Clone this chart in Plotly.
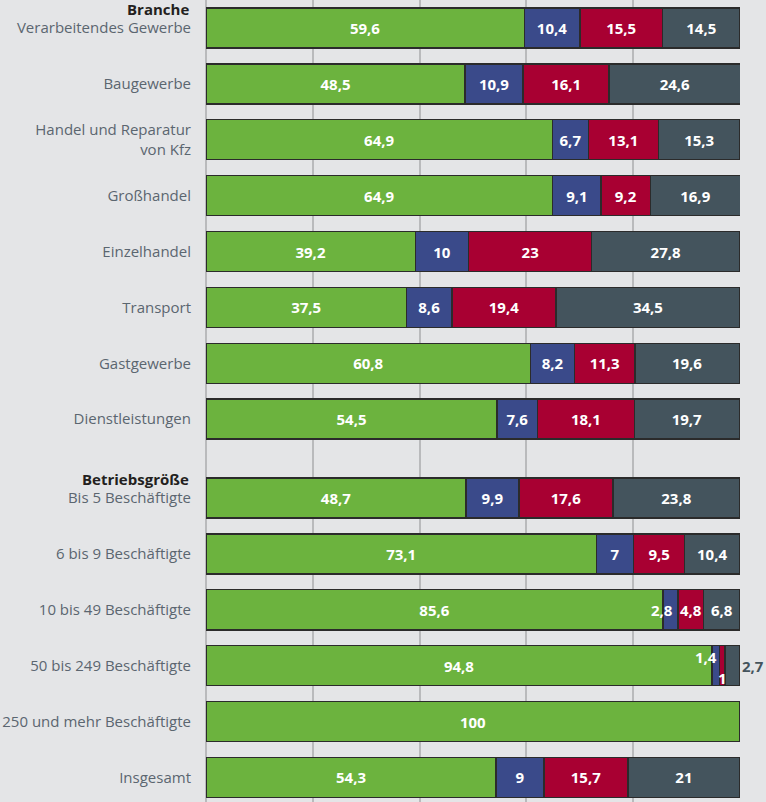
import plotly.graph_objects as go

categories = [
    "Verarbeitendes Gewerbe", "Baugewerbe", "Handel und Reparatur<br>von Kfz",
    "Großhandel", "Einzelhandel", "Transport", "Gastgewerbe", "Dienstleistungen",
    "Bis 5 Beschäftigte", "6 bis 9 Beschäftigte", "10 bis 49 Beschäftigte",
    "50 bis 249 Beschäftigte", "250 und mehr Beschäftigte", "Insgesamt",
]
group_headers = {0: "Branche", 8: "Betriebsgröße"}

s1 = [59.6, 48.5, 64.9, 64.9, 39.2, 37.5, 60.8, 54.5, 48.7, 73.1, 85.6, 94.8, 100, 54.3]
s2 = [10.4, 10.9, 6.7, 9.1, 10, 8.6, 8.2, 7.6, 9.9, 7, 2.8, 1.4, 0, 9]
s3 = [15.5, 16.1, 13.1, 9.2, 23, 19.4, 11.3, 18.1, 17.6, 9.5, 4.8, 1, 0, 15.7]
s4 = [14.5, 24.6, 15.3, 16.9, 27.8, 34.5, 19.6, 19.7, 23.8, 10.4, 6.8, 2.7, 0, 21]

series = [s1, s2, s3, s4]
colors = ["#6cb33e", "#3a4a8a", "#a80032", "#44545d"]

GAP = 0.41  # extra space before the second group
ypos = [i + (GAP if i >= 8 else 0) for i in range(len(categories))]

FONT = "Open Sans"

def fmt(v):
    return f"{v:g}".replace(".", ",")

fig = go.Figure()
small = []  # (series idx, row idx) handled via annotations
for k, (vals, col) in enumerate(zip(series, colors)):
    texts = []
    for i, v in enumerate(vals):
        if v < 3:
            texts.append("")
            if v > 0:
                small.append((k, i))
        else:
            texts.append(fmt(v))
    fig.add_trace(go.Bar(
        x=vals, y=ypos, orientation="h", width=0.716,
        marker=dict(color=col,
                    line=dict(color="#2b2b2b",
                              width=[0 if v == 0 else 1.5 for v in vals])),
        text=texts, textposition="inside", insidetextanchor="middle", textangle=0,
        textfont=dict(color="white", size=15, family=FONT, weight="bold"),
        hoverinfo="skip", showlegend=False,
    ))

annotations = []
lab_font = dict(color="white", size=15, family=FONT, weight="bold")
for k, i in small:
    start = sum(series[j][i] for j in range(k))
    end = start + series[k][i]
    v = series[k][i]
    if k == 3:
        annotations.append(dict(x=end, y=ypos[i], text=fmt(v),
                                xanchor="left", xshift=1, showarrow=False,
                                font=dict(lab_font, color=colors[3])))
    elif i == 11 and k == 1:
        annotations.append(dict(x=end, y=ypos[i], text=fmt(v),
                                xanchor="right", xshift=-1, yshift=9, showarrow=False,
                                font=lab_font))
    elif i == 11 and k == 2:
        annotations.append(dict(x=(start + end) / 2, y=ypos[i], text=fmt(v),
                                xanchor="center", yshift=-12, showarrow=False,
                                font=lab_font))
    else:
        annotations.append(dict(x=end, y=ypos[i], text=fmt(v),
                                xanchor="right", xshift=-3, showarrow=False,
                                font=lab_font))

for i, h in group_headers.items():
    annotations.append(dict(x=0, xref="paper", y=ypos[i], text=h,
                            xanchor="right", xshift=-15, yshift=19, showarrow=False,
                            font=dict(color="#231f20", size=15, family=FONT, weight="bold")))

fig.update_layout(
    barmode="stack",
    width=766, height=802,
    margin=dict(l=206, r=26, t=0, b=0),
    paper_bgcolor="#e4e5e7", plot_bgcolor="#e4e5e7",
    annotations=annotations,
    uniformtext=dict(minsize=15, mode="show"),
    font=dict(family=FONT),
)
fig.update_xaxes(range=[0, 100], dtick=20, showgrid=True, gridcolor="#b9babc",
                 gridwidth=1.5, zeroline=True, zerolinecolor="#b9babc", zerolinewidth=1.5,
                 showticklabels=False, fixedrange=True)
fig.update_yaxes(range=[13.85, -0.5], tickvals=ypos, ticktext=categories,
                 showgrid=False, zeroline=False, ticks="", ticklabelstandoff=14,
                 tickfont=dict(color="#5b6670", size=15, family=FONT),
                 fixedrange=True)

fig.write_html("out.html", config={"displayModeBar": False},
               post_script="document.body.style.margin='0px';")
